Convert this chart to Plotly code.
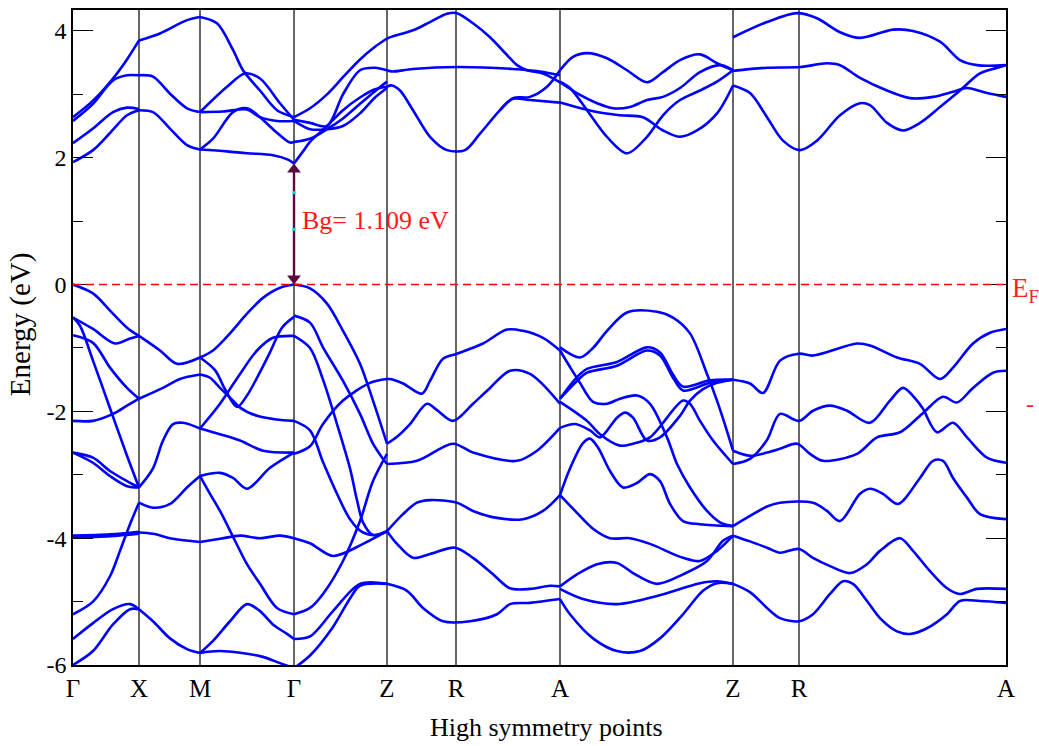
import plotly.graph_objects as go

# ---------------------------------------------------------------------------
# k-path and axis labels
# ---------------------------------------------------------------------------
kpoint_pos = [0.0, 0.66, 1.27, 2.21, 3.14, 3.83, 4.87, 6.60, 7.26, 9.33]
kpoint_labels = ["Γ", "X", "M", "Γ", "Z", "R", "A", "Z", "R", "A"]

e_ticks = [4, 2, 0, -2, -4, -6]
e_tick_text = ["4", "2", "0", "-2", "-4", "-6"]
e_minor = [3, 1, -1, -3, -5]

x_title = "High symmetry points"
y_title = "Energy (eV)"

# band-gap marker at Gamma
gap_k = 2.21
vbm = 0.0
cbm = 1.91
gap_label = "Bg= 1.109 eV"

# ---------------------------------------------------------------------------
# Conduction bands, (k, E) pieces per path segment
# ---------------------------------------------------------------------------
cb_gamma_x = [
    [(0.00, 1.93), (0.20, 2.12), (0.37, 2.39), (0.54, 2.67), (0.66, 2.75)],
    [(0.00, 2.23), (0.20, 2.46), (0.40, 2.72), (0.54, 2.79), (0.66, 2.77)],
    [(0.00, 2.58), (0.20, 2.85), (0.40, 3.22), (0.54, 3.30), (0.66, 3.30)],
    [(0.00, 2.64), (0.20, 2.90), (0.40, 3.25), (0.54, 3.55), (0.66, 3.85)],
]
cb_x_m = [
    [(0.66, 3.85), (0.87, 3.96), (1.14, 4.17), (1.27, 4.22)],
    [(0.66, 3.30), (0.80, 3.28), (0.97, 3.01), (1.14, 2.78), (1.27, 2.72)],
    [(0.66, 2.75), (0.80, 2.72), (0.97, 2.46), (1.14, 2.20), (1.27, 2.13)],
]
cb_m_gamma = [
    [(1.27, 4.22), (1.44, 4.12), (1.60, 3.70), (1.70, 3.38), (1.87, 3.06), (2.04, 2.75), (2.21, 2.64)],
    [(1.27, 2.72), (1.54, 3.12), (1.72, 3.33), (1.87, 3.25), (2.07, 2.86), (2.21, 2.60)],
    [(1.27, 2.72), (1.50, 2.73), (1.74, 2.76), (1.87, 2.64), (2.04, 2.58), (2.21, 2.58)],
    [(1.27, 2.13), (1.40, 2.30), (1.60, 2.72), (1.74, 2.78), (1.87, 2.64), (2.00, 2.45), (2.17, 2.24), (2.21, 2.25)],
    [(1.27, 2.13), (1.54, 2.10), (1.74, 2.07), (2.00, 2.04), (2.15, 1.97), (2.21, 1.91)],
]
cb_gamma_z = [
    [(2.21, 2.64), (2.37, 2.78), (2.54, 3.00), (2.70, 3.27), (2.87, 3.55), (3.02, 3.75), (3.14, 3.88)],
    [(2.21, 2.60), (2.37, 2.55), (2.54, 2.50), (2.70, 3.00), (2.87, 3.38), (3.02, 3.42), (3.14, 3.38)],
    [(2.21, 2.58), (2.37, 2.45), (2.54, 2.45), (2.70, 2.50), (2.87, 2.70), (3.02, 2.95), (3.14, 3.10)],
    [(2.21, 2.25), (2.37, 2.30), (2.54, 2.45), (2.70, 2.62), (2.87, 2.85), (3.02, 3.05), (3.14, 3.20)],
    [(2.21, 1.91), (2.30, 2.10), (2.37, 2.25), (2.54, 2.50), (2.70, 2.75), (2.87, 2.95), (3.02, 3.08), (3.14, 3.12)],
]
cb_z_a = [
    [(3.14, 3.88), (3.19, 3.91), (3.40, 4.01), (3.57, 4.14), (3.74, 4.27), (3.84, 4.28), (4.00, 4.12),
     (4.17, 3.90), (4.34, 3.62), (4.44, 3.46), (4.54, 3.38), (4.70, 3.33), (4.87, 3.19)],
    [(3.14, 3.38), (3.19, 3.36), (3.40, 3.40), (3.84, 3.43), (4.40, 3.40), (4.67, 3.36), (4.87, 3.30)],
    [(3.14, 3.12), (3.19, 3.14), (3.27, 3.06), (3.40, 2.75), (3.57, 2.33), (3.74, 2.12), (3.92, 2.12),
     (4.07, 2.38), (4.27, 2.75), (4.40, 2.94), (4.57, 2.96), (4.74, 3.12), (4.87, 3.38)],
    [(4.27, 2.75), (4.40, 2.93), (4.57, 2.91), (4.87, 2.87)],
]
cb_a_z = [
    [(4.87, 3.19), (5.07, 2.99), (5.24, 2.86), (5.40, 2.78), (5.57, 2.80), (5.74, 2.91), (5.90, 2.96),
     (6.07, 3.10), (6.27, 3.35), (6.47, 3.46), (6.60, 3.38)],
    [(4.87, 3.38), (5.00, 3.59), (5.14, 3.65), (5.34, 3.57), (5.54, 3.38), (5.74, 3.19), (5.90, 3.35),
     (6.07, 3.54), (6.27, 3.63), (6.44, 3.49), (6.60, 3.38)],
    [(4.87, 3.20), (4.97, 3.10), (5.14, 2.75), (5.34, 2.33), (5.54, 2.07), (5.74, 2.33), (5.90, 2.67),
     (6.07, 2.91), (6.27, 3.06), (6.44, 3.20), (6.60, 3.38)],
    [(4.87, 2.87), (5.24, 2.72), (5.47, 2.67), (5.70, 2.64), (5.90, 2.43), (6.07, 2.33), (6.24, 2.43),
     (6.44, 2.70), (6.60, 3.14)],
]
cb_z_a_end = [
    [(6.60, 3.90), (6.94, 4.14), (7.24, 4.28), (7.44, 4.20), (7.67, 3.98), (7.87, 3.89), (8.20, 4.02),
     (8.40, 4.00), (8.67, 3.83), (8.87, 3.54), (9.04, 3.46), (9.33, 3.46)],
    [(6.60, 3.37), (6.94, 3.42), (7.27, 3.43), (7.54, 3.49), (7.67, 3.46), (7.87, 3.26), (8.14, 3.06),
     (8.37, 2.94), (8.60, 2.96), (8.80, 3.04), (8.94, 3.10), (9.14, 3.02), (9.33, 2.96)],
    [(6.60, 3.14), (6.77, 3.02), (6.94, 2.64), (7.10, 2.27), (7.27, 2.12), (7.44, 2.27), (7.67, 2.67),
     (7.87, 2.86), (7.97, 2.83), (8.14, 2.55), (8.30, 2.43), (8.47, 2.55), (8.67, 2.80), (8.87, 3.06),
     (9.07, 3.33), (9.27, 3.43), (9.33, 3.46)],
]

# ---------------------------------------------------------------------------
# Valence bands, (k, E) pieces per path segment
# ---------------------------------------------------------------------------
vb_gamma_x = [
    [(0.00, 0.00), (0.20, -0.14), (0.37, -0.41), (0.54, -0.68), (0.66, -0.81)],
    [(0.00, -0.52), (0.20, -0.70), (0.42, -0.93), (0.57, -0.85), (0.66, -0.81)],
    [(0.00, -0.52), (0.07, -0.65), (0.20, -1.20), (0.37, -1.95), (0.54, -2.70), (0.66, -3.20)],
    [(0.00, -0.80), (0.20, -0.92), (0.37, -1.31), (0.54, -1.63), (0.66, -1.80)],
    [(0.00, -2.15), (0.20, -2.15), (0.40, -2.04), (0.54, -1.91), (0.66, -1.80)],
    [(0.00, -2.65), (0.20, -2.73), (0.37, -2.94), (0.54, -3.10), (0.66, -3.20)],
    [(0.00, -2.65), (0.20, -2.81), (0.37, -3.02), (0.54, -3.18), (0.66, -3.20)],
    [(0.00, -3.96), (0.37, -3.94), (0.66, -3.90)],
    [(0.00, -3.99), (0.37, -3.97), (0.66, -3.93)],
    [(0.00, -5.20), (0.20, -5.00), (0.37, -4.60), (0.47, -4.20), (0.57, -3.78), (0.66, -3.44)],
    [(0.00, -5.59), (0.20, -5.34), (0.40, -5.12), (0.57, -5.04), (0.66, -5.12)],
    [(0.00, -6.00), (0.20, -5.78), (0.40, -5.36), (0.57, -5.12), (0.66, -5.12)],
]
vb_x_m = [
    [(0.66, -0.81), (0.87, -1.04), (1.04, -1.25), (1.27, -1.15)],
    [(0.66, -1.80), (0.90, -1.63), (1.07, -1.49), (1.27, -1.42)],
    [(0.66, -3.20), (0.80, -2.90), (0.90, -2.46), (1.00, -2.20), (1.10, -2.18), (1.27, -2.27)],
    [(0.66, -3.44), (0.80, -3.52), (0.97, -3.46), (1.14, -3.20), (1.27, -3.02)],
    [(0.66, -3.91), (0.80, -3.93), (1.00, -4.01), (1.27, -4.06)],
    [(0.66, -5.12), (0.80, -5.31), (0.97, -5.58), (1.14, -5.75), (1.27, -5.81)],
]
vb_m_gamma = [
    [(1.27, -1.15), (1.40, -1.04), (1.57, -0.77), (1.74, -0.46), (1.90, -0.21), (2.07, -0.05), (2.21, 0.00)],
    [(1.27, -1.15), (1.42, -1.35), (1.52, -1.65), (1.64, -1.93), (1.74, -1.75), (1.84, -1.47),
     (1.97, -1.07), (2.09, -0.68), (2.21, -0.51)],
    [(1.27, -1.42), (1.37, -1.47), (1.47, -1.63), (1.60, -1.83), (1.67, -1.94), (1.84, -2.07),
     (2.00, -2.12), (2.21, -2.15)],
    [(1.27, -2.27), (1.47, -1.88), (1.67, -1.41), (1.84, -1.04), (2.00, -0.84), (2.21, -0.81)],
    [(1.27, -2.27), (1.47, -2.36), (1.67, -2.46), (1.90, -2.62), (2.21, -2.65)],
    [(1.27, -3.02), (1.47, -2.97), (1.60, -3.05), (1.74, -3.22), (1.97, -2.89), (2.21, -2.65)],
    [(1.27, -3.02), (1.37, -3.30), (1.47, -3.57), (1.62, -4.04), (1.74, -4.41), (1.87, -4.72),
     (2.04, -5.10), (2.21, -5.20)],
    [(1.27, -4.06), (1.47, -4.01), (1.67, -3.96), (1.87, -4.00), (2.07, -3.96), (2.21, -4.00)],
    [(1.27, -5.81), (1.47, -5.78), (1.87, -5.86), (2.07, -5.97), (2.21, -6.05)],
    [(1.27, -5.81), (1.40, -5.62), (1.57, -5.31), (1.74, -5.04), (1.87, -5.15), (2.00, -5.36),
     (2.14, -5.51), (2.21, -5.59)],
]
vb_gamma_z = [
    [(2.21, 0.00), (2.37, -0.06), (2.54, -0.30), (2.70, -0.73), (2.87, -1.25), (3.00, -1.83),
     (3.10, -2.31), (3.14, -2.51)],
    [(2.21, -0.49), (2.37, -0.60), (2.50, -0.99), (2.70, -1.52), (2.87, -2.04), (3.00, -2.51),
     (3.10, -2.75), (3.14, -2.83)],
    [(2.21, -0.81), (2.37, -1.00), (2.50, -1.50), (2.64, -2.20), (2.77, -2.90), (2.84, -3.40),
     (2.90, -3.75), (3.00, -3.95), (3.14, -3.89)],
    [(2.21, -2.67), (2.37, -2.55), (2.50, -2.20), (2.70, -1.83), (2.97, -1.55), (3.14, -1.49)],
    [(2.21, -2.15), (2.37, -2.30), (2.50, -2.80), (2.64, -3.30), (2.77, -3.70), (2.89, -3.90),
     (3.02, -3.95), (3.14, -3.89)],
    [(2.21, -4.00), (2.37, -4.08), (2.60, -4.28), (2.90, -4.09), (3.14, -3.89)],
    [(2.21, -5.20), (2.37, -5.10), (2.50, -4.88), (2.70, -4.36), (2.87, -3.73), (3.00, -3.10), (3.14, -2.67)],
    [(2.21, -5.59), (2.37, -5.55), (2.60, -5.15), (2.87, -4.72), (3.14, -4.72)],
    [(2.21, -6.05), (2.37, -5.85), (2.60, -5.40), (2.77, -4.95), (2.87, -4.75), (3.14, -4.72)],
]
vb_z_a = [
    [(3.14, -1.49), (3.17, -1.49), (3.30, -1.56), (3.49, -1.72), (3.57, -1.52), (3.70, -1.17),
     (3.84, -1.09), (4.10, -0.93), (4.34, -0.71), (4.50, -0.73), (4.70, -0.84), (4.87, -1.04)],
    [(3.14, -2.51), (3.24, -2.40), (3.37, -2.20), (3.54, -1.88), (3.64, -1.98), (3.80, -2.15),
     (4.00, -1.88), (4.17, -1.63), (4.37, -1.36), (4.57, -1.41), (4.87, -1.88)],
    [(3.14, -2.83), (3.44, -2.78), (3.80, -2.51), (4.00, -2.65), (4.44, -2.78), (4.64, -2.62), (4.87, -2.26)],
    [(3.14, -3.89), (3.30, -3.62), (3.44, -3.44), (3.57, -3.40), (3.84, -3.44), (4.00, -3.57),
     (4.24, -3.68), (4.50, -3.70), (4.70, -3.57), (4.87, -3.32)],
    [(3.14, -3.89), (3.24, -4.09), (3.40, -4.31), (3.57, -4.25), (3.82, -4.15), (4.00, -4.31),
     (4.20, -4.57), (4.37, -4.79), (4.57, -4.80), (4.77, -4.75), (4.87, -4.76)],
    [(3.14, -4.72), (3.34, -4.83), (3.50, -5.10), (3.70, -5.31), (3.97, -5.31), (4.24, -5.20),
     (4.37, -5.04), (4.57, -5.02), (4.87, -4.96)],
]
vb_a_z = [
    [(4.87, -0.99), (5.07, -1.15), (5.20, -1.00), (5.34, -0.73), (5.54, -0.44), (5.84, -0.43),
     (6.00, -0.52), (6.17, -0.77), (6.34, -1.41), (6.44, -1.83), (6.54, -2.31), (6.60, -2.62)],
    [(4.87, -1.80), (5.04, -1.52), (5.14, -1.39), (5.44, -1.28), (5.74, -1.04), (5.87, -1.12),
     (6.00, -1.47), (6.10, -1.67), (6.37, -1.55), (6.60, -1.50)],
    [(4.87, -1.80), (5.04, -1.46), (5.14, -1.33), (5.44, -1.22), (5.74, -0.99), (5.87, -1.07),
     (6.00, -1.42), (6.10, -1.61), (6.37, -1.51), (6.60, -1.50)],
    [(4.87, -1.85), (5.14, -2.15), (5.27, -2.36), (5.47, -2.54), (5.60, -2.51), (5.77, -2.41),
     (6.10, -1.83), (6.17, -1.88), (6.27, -2.15), (6.40, -2.46), (6.60, -2.83)],
    [(4.87, -1.04), (4.97, -1.30), (5.07, -1.55), (5.20, -1.85), (5.34, -1.88), (5.47, -1.80),
     (5.64, -1.75), (5.77, -1.88), (5.94, -2.41), (6.04, -2.83), (6.17, -3.20), (6.34, -3.57),
     (6.47, -3.75), (6.60, -3.81)],
    [(4.87, -2.26), (5.02, -2.20), (5.17, -2.30), (5.27, -2.41), (5.44, -2.10), (5.52, -2.02),
     (5.60, -2.10), (5.74, -2.46), (5.87, -2.41), (6.07, -2.07), (6.17, -1.83), (6.30, -1.65),
     (6.44, -1.55), (6.60, -1.50)],
    [(4.87, -3.32), (4.97, -2.90), (5.10, -2.50), (5.17, -2.43), (5.25, -2.57), (5.37, -2.94),
     (5.50, -3.20), (5.64, -3.13), (5.77, -2.99), (5.87, -3.10), (5.97, -3.46), (6.10, -3.73),
     (6.27, -3.78), (6.60, -3.81)],
    [(4.87, -3.32), (5.04, -3.60), (5.20, -3.85), (5.37, -4.00), (5.57, -4.00), (5.77, -4.09),
     (6.10, -4.31), (6.27, -4.36), (6.44, -4.20), (6.60, -3.96)],
    [(4.87, -4.76), (5.04, -4.57), (5.24, -4.41), (5.44, -4.39), (5.60, -4.55), (5.84, -4.72),
     (6.10, -4.57), (6.34, -4.36), (6.50, -4.04), (6.60, -3.96)],
    [(4.87, -4.80), (5.10, -4.96), (5.44, -5.04), (5.84, -4.91), (6.27, -4.71), (6.44, -4.68), (6.60, -4.72)],
    [(4.87, -4.96), (4.97, -5.20), (5.20, -5.58), (5.44, -5.78), (5.67, -5.78), (5.87, -5.58),
     (6.10, -5.20), (6.30, -4.83), (6.44, -4.71), (6.60, -4.72)],
]
vb_z_a_end = [
    [(6.60, -1.50), (6.77, -1.56), (6.90, -1.71), (7.07, -1.20), (7.26, -1.09), (7.40, -1.12),
     (7.84, -0.93), (7.97, -0.96), (8.24, -1.15), (8.47, -1.25), (8.67, -1.49), (8.80, -1.31),
     (9.00, -0.93), (9.17, -0.76), (9.33, -0.70)],
    [(6.60, -2.83), (6.77, -2.75), (6.94, -2.45), (7.07, -2.04), (7.26, -2.15), (7.40, -1.99),
     (7.57, -1.91), (7.74, -1.99), (7.97, -2.18), (8.17, -1.83), (8.30, -1.63), (8.44, -1.83),
     (8.50, -1.96), (8.64, -2.33), (8.80, -2.18), (8.94, -2.41), (9.14, -2.73), (9.33, -2.81)],
    [(6.60, -2.62), (6.77, -2.70), (6.94, -2.65), (7.07, -2.59), (7.24, -2.51), (7.37, -2.67),
     (7.50, -2.78), (7.84, -2.67), (8.04, -2.41), (8.27, -2.33), (8.49, -2.04), (8.70, -1.77),
     (8.84, -1.86), (9.00, -1.63), (9.20, -1.39), (9.33, -1.36)],
    [(6.60, -3.81), (6.77, -3.65), (6.94, -3.50), (7.07, -3.44), (7.40, -3.44), (7.54, -3.57),
     (7.67, -3.73), (7.87, -3.30), (7.97, -3.22), (8.10, -3.30), (8.25, -3.46), (8.47, -3.05),
     (8.60, -2.78), (8.70, -2.78), (8.80, -3.05), (8.94, -3.36), (9.07, -3.62), (9.33, -3.70)],
    [(6.60, -3.96), (6.77, -4.05), (6.94, -4.15), (7.07, -4.23), (7.26, -4.17), (7.40, -4.31),
     (7.57, -4.44), (7.77, -4.55), (7.94, -4.41), (8.07, -4.20), (8.27, -4.00), (8.40, -4.20),
     (8.57, -4.52), (8.74, -4.79), (8.87, -4.88), (9.04, -4.80), (9.33, -4.80)],
    [(6.60, -4.72), (6.77, -4.85), (6.94, -5.10), (7.07, -5.26), (7.26, -5.31), (7.40, -5.20),
     (7.57, -4.88), (7.70, -4.68), (7.80, -4.72), (7.94, -4.99), (8.07, -5.26), (8.24, -5.47),
     (8.37, -5.51), (8.54, -5.42), (8.74, -5.20), (8.87, -4.99), (9.07, -4.99), (9.33, -5.02)],
]

band_groups = [
    cb_gamma_x, cb_x_m, cb_m_gamma, cb_gamma_z, cb_z_a, cb_z_a_end, cb_a_z,
    vb_gamma_x, vb_x_m, vb_m_gamma, vb_gamma_z, vb_z_a, vb_a_z, vb_z_a_end,
]

BAND_COLOR = "#0000ff"
ARROW_COLOR = "#5c0a3c"
SERIF = "Liberation Serif, Times New Roman, serif"
E_MIN, E_MAX = -6.0, 4.33
K_MAX = kpoint_pos[-1]
PLOT_H_PX = 655                      # height of the plotting area in pixels
HEAD_SIZE = 12                       # arrow-head marker size in pixels

fig = go.Figure()

for group in band_groups:
    for piece in group:
        k_vals = [p[0] for p in piece]
        e_vals = [p[1] for p in piece]
        fig.add_trace(go.Scatter(
            x=k_vals, y=e_vals, mode="lines",
            line=dict(color=BAND_COLOR, width=2.6, shape="spline", smoothing=0.9),
            hoverinfo="skip", showlegend=False,
        ))

# double-headed gap arrow from VBM to CBM at Gamma
head_shift = (HEAD_SIZE / 2) * (E_MAX - E_MIN) / PLOT_H_PX
fig.add_trace(go.Scatter(
    x=[gap_k, gap_k], y=[vbm + head_shift, cbm - head_shift], mode="lines",
    line=dict(color=ARROW_COLOR, width=2.4), hoverinfo="skip", showlegend=False,
))
fig.add_trace(go.Scatter(
    x=[gap_k, gap_k], y=[cbm - head_shift, vbm + head_shift], mode="markers",
    marker=dict(symbol=["triangle-up", "triangle-down"], size=HEAD_SIZE,
                color=ARROW_COLOR, line=dict(width=0)),
    hoverinfo="skip", showlegend=False,
))
# small cyan marks along the gap arrow
fig.add_trace(go.Scatter(
    x=[gap_k, gap_k], y=[1.45, 0.87], mode="markers",
    marker=dict(symbol="square", size=3, color="#00d8e8", line=dict(width=0)),
    hoverinfo="skip", showlegend=False,
))

shapes = []
# vertical lines at interior high-symmetry points
for kp in kpoint_pos[1:-1]:
    shapes.append(dict(type="line", xref="x", yref="y", x0=kp, x1=kp, y0=E_MIN, y1=E_MAX,
                       line=dict(color="black", width=1.2), layer="below"))
# Fermi level
shapes.append(dict(type="line", xref="x", yref="y", x0=0, x1=K_MAX, y0=0, y1=0,
                   line=dict(color="#ff0000", width=1.5, dash="8px,5px"), layer="above"))


def paper_y(e):
    return (e - E_MIN) / (E_MAX - E_MIN)


annotations = [
    dict(x=2.27, y=1.01, xref="x", yref="y", text=gap_label, showarrow=False,
         xanchor="left", yanchor="middle", font=dict(family=SERIF, size=26, color="#ff1a1a")),
    # Fermi-level label outside the frame
    dict(x=1.004, y=paper_y(-0.08), xref="paper", yref="paper", text="E<sub>F</sub>",
         showarrow=False, xanchor="left", yanchor="middle",
         font=dict(family=SERIF, size=27, color="#ff2020")),
    dict(x=1.026, y=paper_y(-1.88), xref="paper", yref="paper", text="-", showarrow=False,
         xanchor="center", yanchor="middle", font=dict(family=SERIF, size=24, color="#ff2020")),
    # axis titles
    dict(x=0.508, y=-0.096, xref="paper", yref="paper", text=x_title,
         showarrow=False, xanchor="center", yanchor="middle",
         font=dict(family=SERIF, size=26, color="black")),
    dict(x=-0.056, y=0.52, xref="paper", yref="paper", text=y_title, textangle=-90,
         showarrow=False, xanchor="center", yanchor="middle",
         font=dict(family=SERIF, size=29, color="black")),
]

fig.update_layout(
    width=1039, height=746,
    margin=dict(l=73, r=33, t=10, b=81),
    paper_bgcolor="white", plot_bgcolor="white",
    showlegend=False,
    font=dict(family=SERIF, color="black"),
    shapes=shapes, annotations=annotations,
)

fig.update_xaxes(
    range=[0, K_MAX], tickmode="array", tickvals=kpoint_pos, ticktext=kpoint_labels,
    ticks="", showgrid=False, zeroline=False,
    showline=True, linecolor="black", linewidth=1.5, mirror=True,
    tickfont=dict(family=SERIF, size=25, color="black"),
    automargin=False,
)
fig.update_yaxes(
    range=[E_MIN, E_MAX], tickmode="array", tickvals=e_ticks, ticktext=e_tick_text,
    ticks="inside", ticklen=20, tickwidth=1.2, tickcolor="black",
    showgrid=False, zeroline=False,
    showline=True, linecolor="black", linewidth=1.5, mirror="ticks",
    tickfont=dict(family=SERIF, size=24, color="black"),
    minor=dict(tickmode="array", tickvals=e_minor, ticks="inside", ticklen=10,
               tickwidth=1.2, tickcolor="black", showgrid=False),
    automargin=False,
)

fig.write_html("out.html")
